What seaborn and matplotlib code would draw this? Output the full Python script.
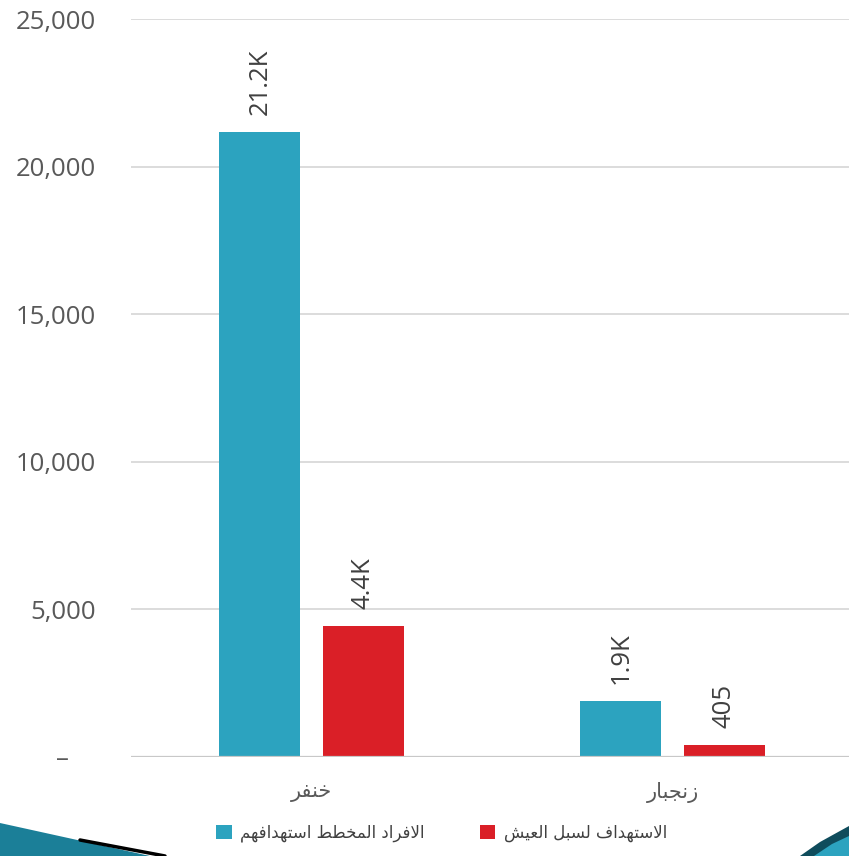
import matplotlib
matplotlib.use('Agg')
import matplotlib.pyplot as plt
import matplotlib.ticker as mticker
from matplotlib.patches import Patch, Polygon
import pandas as pd
import seaborn as sns

# Chart data
regions = ['خنفر', 'زنجبار']
series = ['الافراد المخطط استهدافهم', 'الاستهداف لسبل العيش']
planned = [21170, 1897]
livelihood = [4437, 405]
colors = ['#2ca3bf', '#da1f27']
yticks = [0, 5000, 10000, 15000, 20000, 25000]

# matplotlib has no Arabic shaping, so pick the presentation forms by hand
FORMS = {
    'ا': (0xFE8D, 0xFE8E, None, None),
    'ب': (0xFE8F, 0xFE90, 0xFE91, 0xFE92),
    'ت': (0xFE95, 0xFE96, 0xFE97, 0xFE98),
    'ج': (0xFE9D, 0xFE9E, 0xFE9F, 0xFEA0),
    'خ': (0xFEA5, 0xFEA6, 0xFEA7, 0xFEA8),
    'د': (0xFEA9, 0xFEAA, None, None),
    'ر': (0xFEAD, 0xFEAE, None, None),
    'ز': (0xFEAF, 0xFEB0, None, None),
    'س': (0xFEB1, 0xFEB2, 0xFEB3, 0xFEB4),
    'ش': (0xFEB5, 0xFEB6, 0xFEB7, 0xFEB8),
    'ط': (0xFEC1, 0xFEC2, 0xFEC3, 0xFEC4),
    'ع': (0xFEC9, 0xFECA, 0xFECB, 0xFECC),
    'ف': (0xFED1, 0xFED2, 0xFED3, 0xFED4),
    'ل': (0xFEDD, 0xFEDE, 0xFEDF, 0xFEE0),
    'م': (0xFEE1, 0xFEE2, 0xFEE3, 0xFEE4),
    'ن': (0xFEE5, 0xFEE6, 0xFEE7, 0xFEE8),
    'ه': (0xFEE9, 0xFEEA, 0xFEEB, 0xFEEC),
    'ي': (0xFEF1, 0xFEF2, 0xFEF3, 0xFEF4),
}


def shape_ar(text):
    res = []
    i = 0
    while i < len(text):
        c = text[i]
        if c not in FORMS:
            res.append(c)
            i += 1
            continue
        prev = text[i - 1] if i > 0 else ''
        link_prev = prev in FORMS and FORMS[prev][2] is not None
        if c == 'ل' and i + 1 < len(text) and text[i + 1] == 'ا':
            res.append(chr(0xFEFC if link_prev else 0xFEFB))
            i += 2
            continue
        nxt = text[i + 1] if i + 1 < len(text) else ''
        link_next = FORMS[c][2] is not None and nxt in FORMS
        iso, fin, ini, med = FORMS[c]
        if link_prev and link_next:
            g = med
        elif link_prev:
            g = fin
        elif link_next:
            g = ini
        else:
            g = iso
        res.append(chr(g))
        i += 1
    return ''.join(reversed(res))


df = pd.DataFrame({
    'region': regions * 2,
    'series': [series[0]] * 2 + [series[1]] * 2,
    'value': planned + livelihood,
})

sns.set_style('white')
plt.rcParams['font.family'] = ['Open Sans', 'DejaVu Sans']

W, H = 849, 856
fig = plt.figure(figsize=(W / 100, H / 100), dpi=100)
ax = fig.add_axes([131 / W, 99 / H, 722 / W, 738 / H])

sns.barplot(data=df, x='region', y='value', hue='series', order=regions,
            hue_order=series, palette=colors, width=0.573, gap=0.215,
            saturation=1, linewidth=0, legend=False, ax=ax)

ax.set_xlim(-0.5, 1.5)
ax.set_ylim(0, 25000)
ax.set_yticks(yticks)
ax.yaxis.set_major_formatter(mticker.FuncFormatter(
    lambda v, p: '–    ' if v == 0 else f'{int(v):,}'))
ax.set_xticks(range(len(regions)))
ax.set_xticklabels([shape_ar(r) for r in regions], fontsize=15,
                   color='#595959', family='DejaVu Sans')
ax.tick_params(axis='y', labelsize=18.5, labelcolor='#595959', length=0, pad=25)
ax.tick_params(axis='x', length=0, pad=18)
ax.set_xlabel('')
ax.set_ylabel('')

for s in ax.spines.values():
    s.set_visible(False)
ax.grid(axis='y', color='#d9d9d9', linewidth=1.3)
ax.set_axisbelow(True)
ax.axhline(0, color='#c8c8c8', linewidth=1.6, zorder=1)

for cont in ax.containers:
    labels = []
    for bar in cont:
        v = bar.get_height()
        labels.append(f'{v / 1000:.1f}K' if v >= 1000 else f'{int(round(v))}')
    ax.bar_label(cont, labels=labels, rotation=90, padding=12,
                 fontsize=18.5, color='#404040')

handles = [Patch(facecolor=c, edgecolor='none') for c in colors]
ax.legend(handles, [shape_ar(s) for s in series], loc='center',
          bbox_to_anchor=(0.43, -0.103), ncol=2, frameon=False,
          prop={'family': 'DejaVu Sans', 'size': 12}, handlelength=0.95,
          handleheight=0.95, handletextpad=0.5, columnspacing=3.3,
          labelcolor='#404040')


# slide decoration in the corners
def px(pts):
    return [(x / W, 1 - y / H) for x, y in pts]


fig.patches.append(Polygon(px([(0, 823), (150, 856), (0, 856)]),
                           closed=True, facecolor='#1b7f98', edgecolor='none',
                           transform=fig.transFigure, figure=fig))
fig.lines.append(plt.Line2D([80 / W, 165 / W], [1 - 840 / H, 1 - 856 / H],
                            color='black', linewidth=2.5,
                            transform=fig.transFigure, figure=fig))
fig.patches.append(Polygon(px([(800, 856), (820, 842), (849, 826), (849, 856)]),
                           closed=True, facecolor='#0f4c5c', edgecolor='none',
                           transform=fig.transFigure, figure=fig))
fig.patches.append(Polygon(px([(814, 856), (832, 844), (849, 836), (849, 856)]),
                           closed=True, facecolor='#2ca3bf', edgecolor='none',
                           transform=fig.transFigure, figure=fig))

fig.savefig('out.png', dpi=100)
